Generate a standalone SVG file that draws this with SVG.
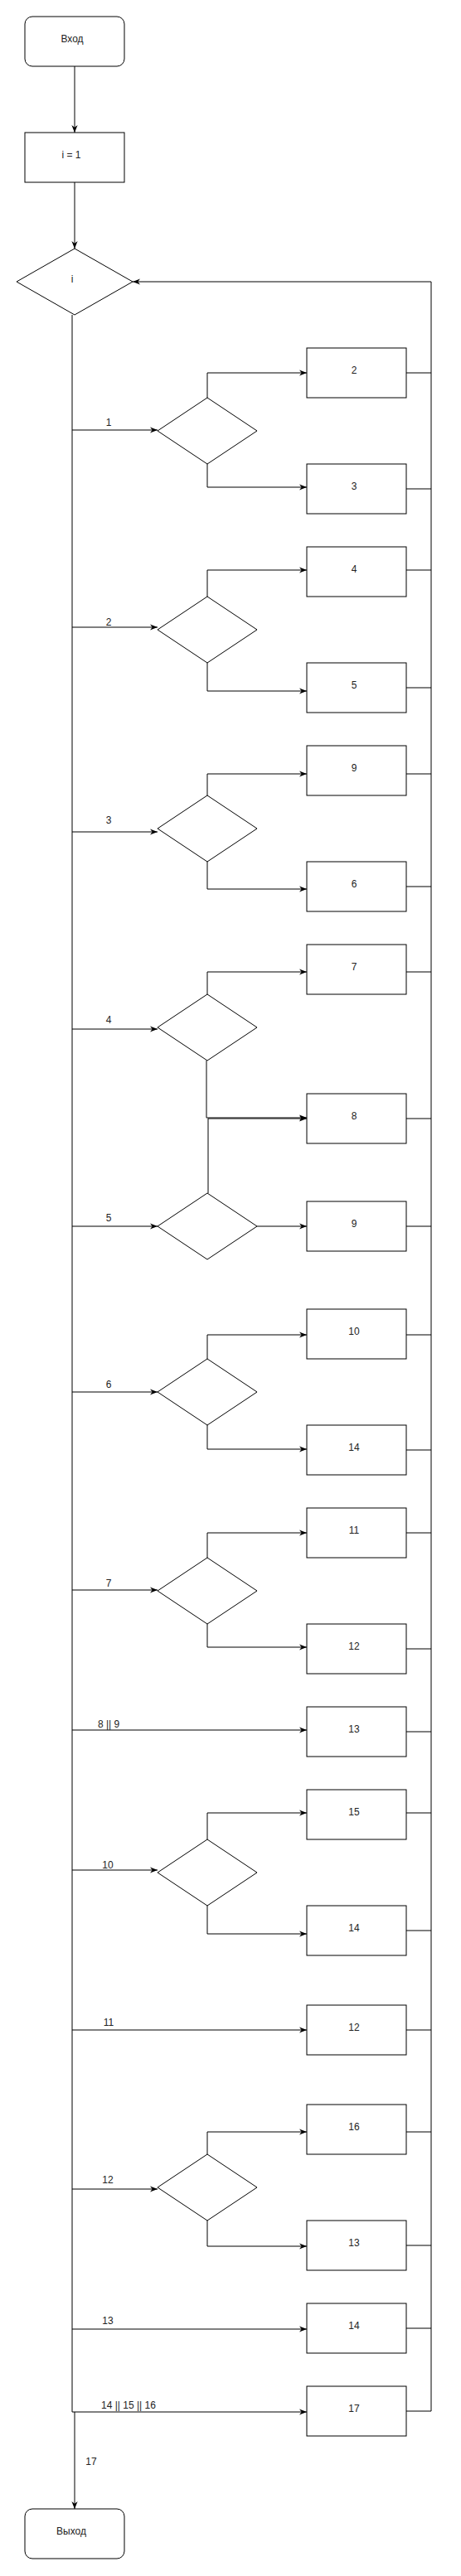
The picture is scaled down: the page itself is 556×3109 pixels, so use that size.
<svg xmlns="http://www.w3.org/2000/svg" width="556" height="3109" viewBox="0 0 556 3109">
<style>
.s{fill:#fff;stroke:#000;stroke-width:1}
.c{fill:none;stroke:#000;stroke-width:1}
.t{font-family:"Liberation Sans",Arial,sans-serif;font-size:12px;fill:#222;text-anchor:middle}
</style>
<defs>
<marker id="a" markerUnits="userSpaceOnUse" viewBox="0 0 10 10" markerWidth="9" markerHeight="9" refX="10" refY="5" orient="auto">
<path d="M0,1 L10,5 L0,9 L3,5 Z" fill="#000"/>
</marker>
</defs>
<rect width="556" height="3109" fill="#fff"/>
<g id="connectors">
<path class="c" d="M90,80 V160" marker-end="url(#a)"/>
<path class="c" d="M90,220 V300" marker-end="url(#a)"/>
<path class="c" d="M520,2910 V340 H160" marker-end="url(#a)"/>
<path class="c" d="M87,380 V2911"/>
<path class="c" d="M90,2911 V3028" marker-end="url(#a)"/>
<!-- block 1 -->
<path class="c" d="M87,519 H190" marker-end="url(#a)"/>
<path class="c" d="M250,480 V450 H370" marker-end="url(#a)"/>
<path class="c" d="M250,560 V588 H370" marker-end="url(#a)"/>
<path class="c" d="M490,450 H520 M490,590 H520"/>
<!-- block 2 -->
<path class="c" d="M87,757 H190" marker-end="url(#a)"/>
<path class="c" d="M250,720 V688 H370" marker-end="url(#a)"/>
<path class="c" d="M250,800 V834 H370" marker-end="url(#a)"/>
<path class="c" d="M490,688 H520 M490,830 H520"/>
<!-- block 3 -->
<path class="c" d="M87,1004 H190" marker-end="url(#a)"/>
<path class="c" d="M250,960 V934 H370" marker-end="url(#a)"/>
<path class="c" d="M250,1040 V1073 H370" marker-end="url(#a)"/>
<path class="c" d="M490,934 H520 M490,1070 H520"/>
<!-- block 4 -->
<path class="c" d="M87,1242 H190" marker-end="url(#a)"/>
<path class="c" d="M250,1200 V1173 H370" marker-end="url(#a)"/>
<path class="c" d="M249,1280 V1349 H370" marker-end="url(#a)"/>
<path class="c" d="M490,1173 H520 M490,1350 H520"/>
<!-- block 5 -->
<path class="c" d="M87,1480 H190" marker-end="url(#a)"/>
<path class="c" d="M251,1440 V1350 H370" marker-end="url(#a)"/>
<path class="c" d="M310,1480 H370" marker-end="url(#a)"/>
<path class="c" d="M490,1480 H520"/>
<!-- block 6 -->
<path class="c" d="M87,1680 H190" marker-end="url(#a)"/>
<path class="c" d="M250,1640 V1611 H370" marker-end="url(#a)"/>
<path class="c" d="M250,1720 V1749 H370" marker-end="url(#a)"/>
<path class="c" d="M490,1611 H520 M490,1750 H520"/>
<!-- block 7 -->
<path class="c" d="M87,1919 H190" marker-end="url(#a)"/>
<path class="c" d="M250,1880 V1850 H370" marker-end="url(#a)"/>
<path class="c" d="M250,1960 V1988 H370" marker-end="url(#a)"/>
<path class="c" d="M490,1850 H520 M490,1990 H520"/>
<!-- 8 || 9 -->
<path class="c" d="M87,2088 H370" marker-end="url(#a)"/>
<path class="c" d="M490,2090 H520"/>
<!-- block 10 -->
<path class="c" d="M87,2257 H190" marker-end="url(#a)"/>
<path class="c" d="M250,2220 V2188 H370" marker-end="url(#a)"/>
<path class="c" d="M250,2300 V2334 H370" marker-end="url(#a)"/>
<path class="c" d="M490,2188 H520 M490,2330 H520"/>
<!-- 11 -->
<path class="c" d="M87,2450 H370" marker-end="url(#a)"/>
<path class="c" d="M490,2450 H520"/>
<!-- block 12 -->
<path class="c" d="M87,2642 H190" marker-end="url(#a)"/>
<path class="c" d="M250,2600 V2573 H370" marker-end="url(#a)"/>
<path class="c" d="M250,2680 V2711 H370" marker-end="url(#a)"/>
<path class="c" d="M490,2573 H520 M490,2710 H520"/>
<!-- 13 -->
<path class="c" d="M87,2811 H370" marker-end="url(#a)"/>
<path class="c" d="M490,2810 H520"/>
<!-- 14 || 15 || 16 -->
<path class="c" d="M87,2911 H370" marker-end="url(#a)"/>
<path class="c" d="M490,2910 H520"/>
<!-- labels -->
<text class="t" x="131" y="514">1</text>
<text class="t" x="131" y="755">2</text>
<text class="t" x="131" y="994">3</text>
<text class="t" x="131" y="1235">4</text>
<text class="t" x="131" y="1474">5</text>
<text class="t" x="131" y="1675">6</text>
<text class="t" x="131" y="1915">7</text>
<text class="t" x="131" y="2085">8 || 9</text>
<text class="t" x="130" y="2255">10</text>
<text class="t" x="131" y="2445">11</text>
<text class="t" x="130" y="2635">12</text>
<text class="t" x="130" y="2805">13</text>
<text class="t" x="155" y="2907">14 || 15 || 16</text>
<text class="t" x="110" y="2975">17</text>
</g>
<g id="start"><rect class="s" x="30" y="20" width="120" height="60" rx="9"/><text class="t" x="87" y="51">Вход</text></g>
<g id="init"><rect class="s" x="30" y="160" width="120" height="60"/><text class="t" x="86" y="191">i = 1</text></g>
<g id="switch"><path class="s" d="M90,300 L160,340 L90,380 L20,340 Z"/><text class="t" x="87" y="341">i</text></g>
<g id="d1"><path class="s" d="M250,480 L310,520 L250,560 L190,520 Z"/></g>
<g id="b2"><rect class="s" x="370" y="420" width="120" height="60"/><text class="t" x="427" y="451">2</text></g>
<g id="b3"><rect class="s" x="370" y="560" width="120" height="60"/><text class="t" x="427" y="591">3</text></g>
<g id="d2"><path class="s" d="M250,720 L310,760 L250,800 L190,760 Z"/></g>
<g id="b4"><rect class="s" x="370" y="660" width="120" height="60"/><text class="t" x="427" y="691">4</text></g>
<g id="b5"><rect class="s" x="370" y="800" width="120" height="60"/><text class="t" x="427" y="831">5</text></g>
<g id="d3"><path class="s" d="M250,960 L310,1000 L250,1040 L190,1000 Z"/></g>
<g id="b9a"><rect class="s" x="370" y="900" width="120" height="60"/><text class="t" x="427" y="931">9</text></g>
<g id="b6"><rect class="s" x="370" y="1040" width="120" height="60"/><text class="t" x="427" y="1071">6</text></g>
<g id="d4"><path class="s" d="M250,1200 L310,1240 L250,1280 L190,1240 Z"/></g>
<g id="b7"><rect class="s" x="370" y="1140" width="120" height="60"/><text class="t" x="427" y="1171">7</text></g>
<g id="b8"><rect class="s" x="370" y="1320" width="120" height="60"/><text class="t" x="427" y="1351">8</text></g>
<g id="d5"><path class="s" d="M250,1440 L310,1480 L250,1520 L190,1480 Z"/></g>
<g id="b9b"><rect class="s" x="370" y="1450" width="120" height="60"/><text class="t" x="427" y="1481">9</text></g>
<g id="d6"><path class="s" d="M250,1640 L310,1680 L250,1720 L190,1680 Z"/></g>
<g id="b10"><rect class="s" x="370" y="1580" width="120" height="60"/><text class="t" x="427" y="1611">10</text></g>
<g id="b14a"><rect class="s" x="370" y="1720" width="120" height="60"/><text class="t" x="427" y="1751">14</text></g>
<g id="d7"><path class="s" d="M250,1880 L310,1920 L250,1960 L190,1920 Z"/></g>
<g id="b11"><rect class="s" x="370" y="1820" width="120" height="60"/><text class="t" x="427" y="1851">11</text></g>
<g id="b12a"><rect class="s" x="370" y="1960" width="120" height="60"/><text class="t" x="427" y="1991">12</text></g>
<g id="b13a"><rect class="s" x="370" y="2060" width="120" height="60"/><text class="t" x="427" y="2091">13</text></g>
<g id="d10"><path class="s" d="M250,2220 L310,2260 L250,2300 L190,2260 Z"/></g>
<g id="b15"><rect class="s" x="370" y="2160" width="120" height="60"/><text class="t" x="427" y="2191">15</text></g>
<g id="b14b"><rect class="s" x="370" y="2300" width="120" height="60"/><text class="t" x="427" y="2331">14</text></g>
<g id="b12b"><rect class="s" x="370" y="2420" width="120" height="60"/><text class="t" x="427" y="2451">12</text></g>
<g id="d12"><path class="s" d="M250,2600 L310,2640 L250,2680 L190,2640 Z"/></g>
<g id="b16"><rect class="s" x="370" y="2540" width="120" height="60"/><text class="t" x="427" y="2571">16</text></g>
<g id="b13b"><rect class="s" x="370" y="2680" width="120" height="60"/><text class="t" x="427" y="2711">13</text></g>
<g id="b14c"><rect class="s" x="370" y="2780" width="120" height="60"/><text class="t" x="427" y="2811">14</text></g>
<g id="b17"><rect class="s" x="370" y="2880" width="120" height="60"/><text class="t" x="427" y="2911">17</text></g>
<g id="end"><rect class="s" x="30" y="3028" width="120" height="60" rx="9"/><text class="t" x="86" y="3059">Выход</text></g>
</svg>
